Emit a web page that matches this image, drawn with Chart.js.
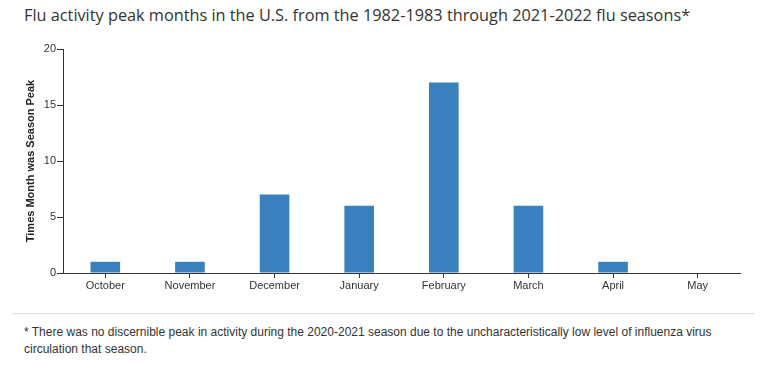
<!DOCTYPE html>
<html>
<head>
<meta charset="utf-8">
<script src="https://cdn.jsdelivr.net/npm/chart.js@4"></script>
<style>
html,body{margin:0;padding:0;background:#fff;width:765px;height:369px;overflow:hidden;}
#title{position:absolute;left:24px;top:4px;font-family:"Open Sans",sans-serif;font-size:16.3px;color:#333;white-space:nowrap;}
#wrap{position:absolute;left:0;top:0;width:765px;height:311px;}
#rule{position:absolute;left:12px;top:313px;width:743px;height:0;border-top:1px solid #ddd;}
#note{position:absolute;left:24px;top:324px;width:725px;font-family:"Liberation Sans",Arial,sans-serif;font-size:12px;line-height:17px;color:#333;}
</style>
</head>
<body>
<div id="title">Flu activity peak months in the U.S. from the 1982-1983 through 2021-2022 flu seasons*</div>
<div id="wrap"><canvas id="c"></canvas></div>
<div id="rule"></div>
<div id="note">* There was no discernible peak in activity during the 2020-2021 season due to the uncharacteristically low level of influenza virus circulation that season.</div>
<script>
const months = ["October","November","December","January","February","March","April","May"];
const peakCounts = [1,1,7,6,17,6,1,0];
const yTicks = [0,5,10,15,20];

const axisColor = "#333";
const font = {family:"'Liberation Sans', Arial, sans-serif", size:11};
new Chart(document.getElementById("c"), {
  type:"bar",
  data:{labels:months, datasets:[{data:peakCounts, backgroundColor:"#3a7fbe", barPercentage:0.35, categoryPercentage:1}]},
  options:{
    responsive:true, maintainAspectRatio:false, animation:false,
    layout:{padding:{left:0,right:25,top:49,bottom:0}},
    plugins:{legend:{display:false}, tooltip:{enabled:false}},
    scales:{
      x:{
        offset:true,
        grid:{offset:false, drawOnChartArea:false, drawTicks:true, tickLength:5, color:axisColor},
        border:{color:axisColor},
        ticks:{color:"#333", font:font, padding:1, maxRotation:0, autoSkip:false},
        afterFit:s=>{s.height=38;}
      },
      y:{
        min:0, max:20,
        afterBuildTicks:s=>{s.ticks=yTicks.map(v=>({value:v}));},
        grid:{drawOnChartArea:false, drawTicks:true, tickLength:6, color:axisColor},
        border:{color:axisColor},
        ticks:{color:"#333", font:font, padding:1},
        title:{display:true, text:"Times Month was Season Peak", color:"#222", font:{family:font.family,size:11,weight:"bold"}, padding:{top:24,bottom:0}},
        afterFit:s=>{s.width=63;}
      }
    }
  }
});
</script>
</body>
</html>
